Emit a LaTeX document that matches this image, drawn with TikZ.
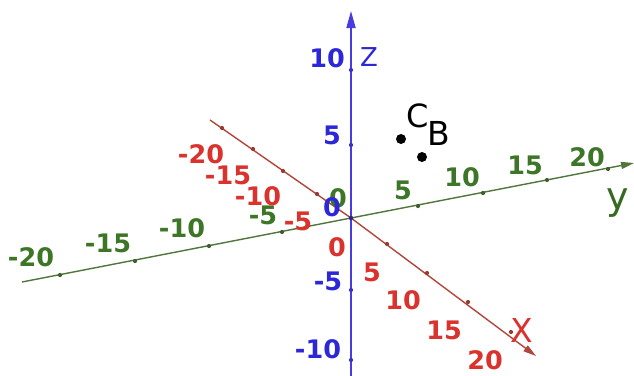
\documentclass[tikz,border=0pt]{standalone}
\usepackage{fontspec}
\setmainfont{DejaVu Sans}
\usetikzlibrary{arrows.meta}
\definecolor{zblue}{RGB}{45,40,215}
\definecolor{zline}{RGB}{70,60,225}
\definecolor{xred}{RGB}{218,50,45}
\definecolor{xline}{RGB}{178,70,60}
\definecolor{ygreen}{RGB}{60,118,38}
\definecolor{yline}{RGB}{80,118,60}
\begin{document}
\begin{tikzpicture}[x=1pt,y=-1pt,
  num/.style={font=\fontsize{25.5}{25.5}\selectfont\bfseries, inner sep=0pt},
  letter/.style={font=\fontsize{#1}{#1}\selectfont, inner sep=0pt},
  tickdot/.style={circle, fill, inner sep=0pt, minimum size=4.2pt},
  ptdot/.style={circle, fill=black, inner sep=0pt, minimum size=10pt},
  axisline/.style={line width=1.4pt}]
\useasboundingbox (0,0) rectangle (634,375);
\fill[white] (0,0) rectangle (634,375);

% key coordinates
\coordinate (O) at (351,218);
\coordinate (xs) at (210,120);
\coordinate (xe) at (536,356);
\coordinate (ys) at (22,282);
\coordinate (ye) at (634,163);
\coordinate (zs) at (351,376);
\coordinate (ze) at (351,11);

% y axis (green)
\draw[axisline, yline, -{Triangle[length=13pt,width=7pt]}] (ys) -- (O) -- (ye);
\foreach \n/\p in {ym20/{60,275}, ym15/{135,261}, ym10/{209,246}, ym5/{282,232},
                   yp5/{418,206}, yp10/{483,193}, yp15/{547,180}, yp20/{608,169}}
  \node[tickdot, yline!80!black] (\n) at (\p) {};

% x axis (red)
\draw[axisline, xline, -{Triangle[length=13pt,width=7pt]}] (xs) -- (O) -- (xe);
\foreach \n/\p in {xm20/{222,128}, xm15/{253,149}, xm10/{283,171}, xm5/{317,194},
                   xp5/{387,244}, xp10/{427,273}, xp15/{468,302}, xp20/{511,332}}
  \node[tickdot, xline!85!black] (\n) at (\p) {};

% z axis (blue)
\draw[line width=1.7pt, zline, -{Triangle[length=17pt,width=9pt]}] (zs) -- (O) -- (ze);
\foreach \n/\p in {zp10/{351,70}, zp5/{351,145}, zm5/{351,290}, zm10/{351,360}}
  \node[tickdot, zline!85!black] (\n) at (\p) {};
\node[tickdot, zline!60!black, minimum size=4.5pt] (orig) at (O) {};

% y labels
\node[num, ygreen] (lym20) at (31,257) {-20};
\node[num, ygreen] (lym15) at (108,243) {-15};
\node[num, ygreen] (lym10) at (182,228) {-10};
\node[num, ygreen] (lym5) at (263,215) {-5};
\node[num, ygreen] (ly0) at (338,198) {0};
\node[num, ygreen] (lyp5) at (403,190) {5};
\node[num, ygreen] (lyp10) at (462,177) {10};
\node[num, ygreen] (lyp15) at (525,165) {15};
\node[num, ygreen] (lyp20) at (587,157) {20};
\node[letter=38, ygreen!90!black] (ylab) at (618,203) {y};

% x labels
\node[num, xred] (lxm20) at (201,154) {-20};
\node[num, xred] (lxm15) at (228,175) {-15};
\node[num, xred] (lxm10) at (258,196) {-10};
\node[num, xred] (lxm5) at (298,221) {-5};
\node[num, xred] (lx0) at (337,247) {0};
\node[num, xred] (lxp5) at (372,272) {5};
\node[num, xred] (lxp10) at (403,300) {10};
\node[num, xred] (lxp15) at (444,330) {15};
\node[num, xred] (lxp20) at (485,360) {20};
\node[letter=33, xred] (xlab) at (522,330) {X};

% z labels
\node[num, zblue] (lzp10) at (327,58) {10};
\node[num, zblue] (lzp5) at (332,135) {5};
\node[num, zblue] (lz0) at (332,207) {0};
\node[num, zblue] (lzm5) at (328,281) {-5};
\node[num, zblue] (lzm10) at (318,349) {-10};
\node[letter=26, zblue] (zlab) at (369,57) {Z};

% points
\node[ptdot] (C) at (401,139) {};
\node[ptdot] (B) at (422,157) {};
\node[letter=32] (Clab) at (418,116) {C};
\node[letter=33] (Blab) at (439,133) {B};
\end{tikzpicture}
\end{document}
